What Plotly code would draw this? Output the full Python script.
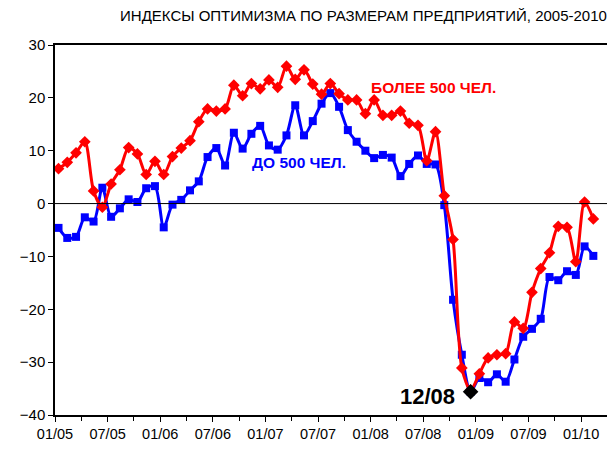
import plotly.graph_objects as go

# monthly indices, Jan 2005 .. Feb 2010
months = list(range(62))

big_firms = [6.6, 7.8, 9.6, 11.7, 2.4, -0.7, 3.7, 6.4, 10.6, 9.4, 5.5, 8.0,
             5.5, 8.9, 10.5, 11.9, 15.5, 17.9, 17.5, 17.9, 22.4, 20.4, 22.7, 21.7,
             23.4, 22.0, 26.0, 23.5, 25.3, 22.6, 20.7, 22.7, 20.8, 19.6, 19.6, 17.0,
             19.6, 16.7, 16.7, 17.5, 15.2, 14.8, 8.1, 13.6, 1.5, -6.8, -31.1, -35.3,
             -32.2, -29.2, -28.6, -28.4, -22.4, -23.6, -16.8, -12.3, -9.3, -4.3, -4.5, -11.0,
             0.3, -2.9]

small_firms = [-4.6, -6.5, -6.3, -2.6, -3.4, 3.0, -2.5, -0.9, 0.8, 0.3, 2.9, 3.3,
               -4.5, -0.2, 0.7, 2.5, 4.2, 8.8, 10.5, 7.2, 13.4, 10.4, 13.2, 14.7,
               11.0, 10.2, 12.9, 18.6, 12.9, 15.6, 18.9, 20.9, 18.3, 13.9, 11.7, 10.0,
               8.6, 9.2, 8.7, 5.2, 7.5, 9.1, 7.5, 7.4, -0.3, -18.2, -28.6, -35.6,
               -33.0, -33.8, -32.3, -33.7, -29.5, -25.2, -23.7, -21.8, -13.9, -14.5, -12.8, -13.5,
               -8.1, -9.9]

tick_labels = ["01/05", "07/05", "01/06", "07/06", "01/07", "07/07",
               "01/08", "07/08", "01/09", "07/09", "01/10"]

low_month = 47   # 12/08
low_value = -35.6

off = -0.4
font = "Liberation Sans, Arial, sans-serif"

fig = go.Figure()

fig.add_trace(go.Scatter(
    x=months, y=small_firms, mode="lines+markers",
    line=dict(color="#0000FF", width=3, shape="spline", smoothing=0.8),
    marker=dict(symbol="square", size=8, color="#0000FF"),
    showlegend=False))

fig.add_trace(go.Scatter(
    x=months, y=big_firms, mode="lines+markers",
    line=dict(color="#FF0000", width=3, shape="spline", smoothing=0.8),
    marker=dict(symbol="diamond", size=9, color="#FF0000"),
    showlegend=False))

fig.add_trace(go.Scatter(
    x=[low_month], y=[low_value], mode="markers",
    marker=dict(symbol="diamond", size=12, color="black"),
    showlegend=False))

fig.add_hline(y=0, line=dict(color="black", width=1))

fig.add_annotation(x=42.8, y=21.9, text="<b>БОЛЕЕ 500 ЧЕЛ.</b>", showarrow=False,
                   font=dict(family=font, size=15.5, color="#FF0000"))
fig.add_annotation(x=27.4, y=7.7, text="<b>ДО 500 ЧЕЛ.</b>", showarrow=False,
                   font=dict(family=font, size=15.5, color="#0000FF"))
fig.add_annotation(x=42.1, y=-36.5, text="<b>12/08</b>", showarrow=False,
                   font=dict(family=font, size=22, color="black"))

# page body has an 8px margin, so margins are shifted to compensate
fig.update_layout(
    width=615, height=450,
    margin=dict(l=37, r=13, t=37, b=43),
    paper_bgcolor="white", plot_bgcolor="white",
    title=dict(text="ИНДЕКСЫ ОПТИМИЗМА ПО РАЗМЕРАМ ПРЕДПРИЯТИЙ, 2005-2010",
               x=0.578, xanchor="center", y=0.982, yanchor="middle",
               font=dict(family=font, size=15, color="black")),
    xaxis=dict(range=[off, 62.9], tickmode="array",
               tickvals=[off + 6 * i for i in range(len(tick_labels))],
               ticktext=tick_labels, ticks="outside", ticklen=5, tickcolor="black",
               minor=dict(tickmode="linear", tick0=off, dtick=3, ticks="outside",
                          ticklen=4, tickcolor="black"),
               showgrid=False, zeroline=False, showline=True, linecolor="black",
               linewidth=1.5, mirror=True,
               tickfont=dict(family=font, size=14.5, color="black")),
    yaxis=dict(range=[-40, 30], dtick=10, ticks="outside", ticklen=5, tickcolor="black",
               showgrid=False, zeroline=False, showline=True, linecolor="black",
               linewidth=1.5,
               tickfont=dict(family=font, size=15, color="black")),
)

fig.write_html("out.html")
